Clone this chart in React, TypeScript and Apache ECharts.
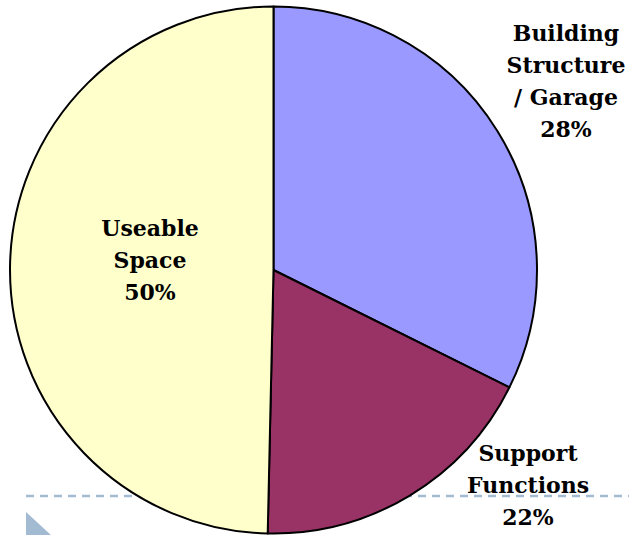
import React, { useEffect, useRef } from "react";
import * as echarts from "echarts";

// Slice names as drawn (clockwise from 12 o'clock)
const categories = ["Building Structure / Garage", "Support Functions", "Useable Space"];
const sliceValues = [32.35, 18.0, 49.65];
// Percentages printed on the labels
const labelPercents = [28, 22, 50];
// Label line breaks
const labelLines = [
  ["Building", "Structure", "/ Garage"],
  ["Support", "Functions"],
  ["Useable", "Space"],
];
const sliceColors = ["#9999ff", "#993366", "#ffffcc"];

export default function App() {
  const ref = useRef<HTMLDivElement>(null);
  useEffect(() => {
    if (!ref.current) return;
    const chart = echarts.init(ref.current, undefined, { renderer: "svg" });
    const labelPos = [
      [566, 81],
      [528, 485],
      [150, 260],
    ];
    const font = "DejaVu Serif";
    chart.setOption({
      animation: false,
      backgroundColor: "#ffffff",
      series: [
        {
          type: "pie",
          center: [273.5, 270],
          radius: 263.5,
          startAngle: 90,
          clockwise: true,
          label: { show: false },
          labelLine: { show: false },
          emphasis: { disabled: true },
          itemStyle: { borderColor: "#000000", borderWidth: 2 },
          data: categories.map((c, i) => ({
            name: c,
            value: sliceValues[i],
            itemStyle: { color: sliceColors[i] },
          })),
        },
      ],
      graphic: [
        {
          type: "line",
          z: 0,
          shape: { x1: 26, y1: 496, x2: 629, y2: 496 },
          style: { stroke: "#a3bad3", lineWidth: 2.5, lineDash: [8, 6] },
        },
        {
          type: "polygon",
          z: 0,
          shape: { points: [[26, 512], [52, 536], [26, 560]] },
          style: { fill: "#a3bad3" },
        },
        ...categories.map((c, i) => ({
          type: "text",
          z: 100,
          x: labelPos[i][0],
          y: labelPos[i][1],
          style: {
            text: [...labelLines[i], labelPercents[i] + "%"].join("\n"),
            font: `bold 22px "${font}"`,
            fill: "#000000",
            align: "center",
            verticalAlign: "middle",
            lineHeight: 32,
          },
        })),
      ],
    });
    return () => chart.dispose();
  }, []);
  return (
    <div
      ref={ref}
      style={{ position: "fixed", left: 0, top: 0, width: 629, height: 535 }}
    />
  );
}
